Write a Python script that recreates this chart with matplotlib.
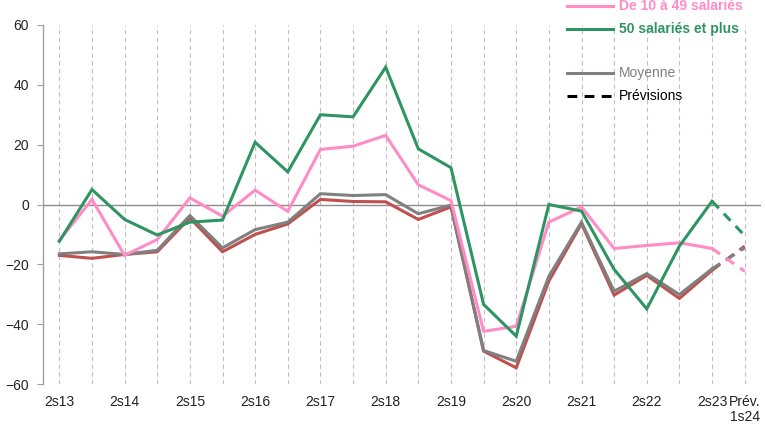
import matplotlib
matplotlib.use("Agg")
import matplotlib.pyplot as plt
from matplotlib.lines import Line2D

plt.rcParams['font.family'] = ['Liberation Sans', 'DejaVu Sans']

categories = ["2s13", "1s14", "2s14", "1s15", "2s15", "1s16", "2s16", "1s17", "2s17", "1s18",
              "2s18", "1s19", "2s19", "1s20", "2s20", "1s21", "2s21", "1s22", "2s22", "1s23",
              "2s23", "1s24"]
tick_labels = ["2s13", "", "2s14", "", "2s15", "", "2s16", "", "2s17", "", "2s18", "",
               "2s19", "", "2s20", "", "2s21", "", "2s22", "", "2s23", "Prév.\n1s24"]

moins_10 = [-17, -18, -16.7, -15.8, -4.5, -15.8, -10, -6.5, 1.7, 1.0, 0.9, -5, -0.8,
            -49, -54.6, -25.6, -6.4, -30.3, -23.7, -31.4, -22, -13.9]
de_10_49 = [-12, 1.7, -17, -11.7, 2.2, -3.9, 4.8, -2.3, 18.4, 19.5, 23.1, 6.6, 1.3,
            -42.4, -40.7, -5.9, -0.8, -14.7, -13.7, -12.8, -14.7, -22.3]
plus_50 = [-12.3, 5, -5, -10.2, -5.9, -5.2, 20.8, 10.9, 30, 29.3, 45.9, 18.6, 12.3,
           -33.4, -44, 0, -2.2, -21.7, -34.9, -13.9, 1.1, -10.4]
moyenne = [-16.5, -15.8, -16.7, -15.3, -3.7, -14.5, -8.4, -5.9, 3.6, 3.0, 3.3, -3.1, -0.2,
           -48.8, -52.4, -24, -5.9, -29, -23.1, -30.1, -21.5, -14.5]

n_obs = 21  # observed points; last one is the forecast

RED = "#C0504D"
PINK = "#FF8CC6"
GREEN = "#2E9562"
GREY = "#808080"
DASH = (0, (3.2, 2.4))

fig = plt.figure(figsize=(7.65, 4.24), dpi=100)
ax = fig.add_axes([43/765, 1-384/424, (761-43)/765, (384-25)/424])

x = list(range(len(categories)))
lw = 2.2
series = [(moins_10, RED), (moyenne, GREY), (de_10_49, PINK), (plus_50, GREEN)]
for vals, col in series:
    ax.plot(x[:n_obs], vals[:n_obs], color=col, lw=lw, solid_joinstyle='miter', zorder=3)
    ax.plot(x[n_obs-1:], vals[n_obs-1:], color=col, lw=lw, ls=DASH, zorder=3)

ax.set_xlim(-0.5, len(categories) - 0.5)
ax.set_ylim(-60, 60)
ax.set_yticks([-60, -40, -20, 0, 20, 40, 60])
ax.set_xticks(x)
ax.set_xticklabels(tick_labels, fontsize=10, color="#222222", linespacing=1.1)
ax.tick_params(axis='x', length=0, pad=8)
ax.tick_params(axis='y', length=4, color="#A0A0A0", labelsize=10, labelcolor="#222222", pad=6)
for s in ["top", "right", "bottom"]:
    ax.spines[s].set_visible(False)
ax.spines["left"].set_color("#A0A0A0")
ax.spines["left"].set_linewidth(1.0)

for xi in x:
    ax.axvline(xi, color="#C0C0C0", lw=0.8, ls=(0, (4, 3)), zorder=1)
ax.axhline(0, color="#8C8C8C", lw=1.0, zorder=2)

# Legend (manual, in figure pixel coordinates)
def fx(px):
    return px / 765
def fy(py):
    return 1 - py / 424

legend_rows = [
    (6, PINK, "-", "De 10 à 49 salariés", PINK, "bold"),
    (29, GREEN, "-", "50 salariés et plus", GREEN, "bold"),
    (73, GREY, "-", "Moyenne", GREY, "normal"),
    (96, "black", DASH, "Prévisions", "black", "normal"),
]
for py, lc, ls, label, tc, fw in legend_rows:
    fig.add_artist(Line2D([fx(567), fx(613)], [fy(py), fy(py)], color=lc, lw=lw, ls=ls,
                          transform=fig.transFigure))
    fig.text(fx(619), fy(py), label, color=tc, fontweight=fw, fontsize=10,
             va='center', ha='left')

fig.savefig("out.png", dpi=100)
